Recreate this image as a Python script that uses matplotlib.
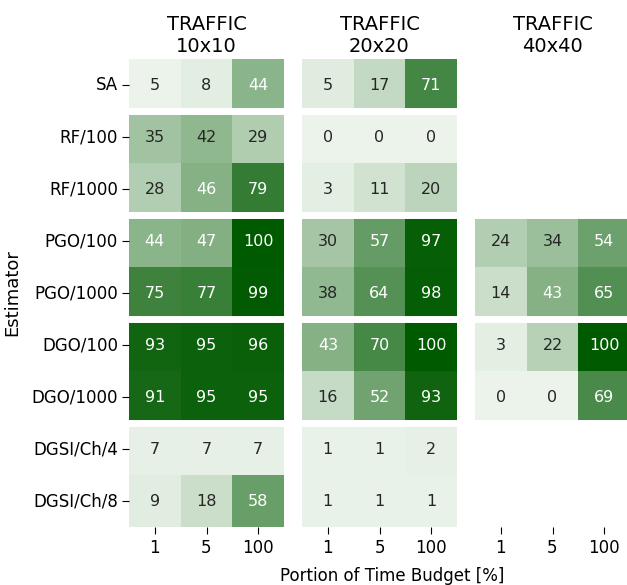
import numpy as np
import matplotlib
matplotlib.use('Agg')
import matplotlib.pyplot as plt
import seaborn as sns

# Zeilen / Spalten
estimators = ['SA', 'RF/100', 'RF/1000', 'PGO/100', 'PGO/1000',
              'DGO/100', 'DGO/1000', 'DGSI/Ch/4', 'DGSI/Ch/8']
budgets = ['1', '5', '100']
sizes = ['10x10', '20x20', '40x40']

nan = np.nan
traffic_10 = [[5, 8, 44],
              [35, 42, 29],
              [28, 46, 79],
              [44, 47, 100],
              [75, 77, 99],
              [93, 95, 96],
              [91, 95, 95],
              [7, 7, 7],
              [9, 18, 58]]
traffic_20 = [[5, 17, 71],
              [0, 0, 0],
              [3, 11, 20],
              [30, 57, 97],
              [38, 64, 98],
              [43, 70, 100],
              [16, 52, 93],
              [1, 1, 2],
              [1, 1, 1]]
traffic_40 = [[nan, nan, nan],
              [nan, nan, nan],
              [nan, nan, nan],
              [24, 34, 54],
              [14, 43, 65],
              [3, 22, 100],
              [0, 0, 69],
              [nan, nan, nan],
              [nan, nan, nan]]
panels = [traffic_10, traffic_20, traffic_40]

# Grenzen zwischen den Gruppen
group_breaks = [1, 3, 5, 7]

cmap = sns.light_palette('#005a00', as_cmap=True)

W, H = 627, 585
fig = plt.figure(figsize=(W / 100, H / 100), dpi=100)
lefts = [129, 302, 475]

for i, (data, size) in enumerate(zip(panels, sizes)):
    ax = fig.add_axes([lefts[i] / W, 1 - 527 / H, 155 / W, 468 / H])
    sns.heatmap(np.array(data, dtype=float), ax=ax, cmap=cmap, annot=True, fmt='.0f',
                cbar=False, annot_kws={'fontsize': 11.5},
                xticklabels=budgets,
                yticklabels=estimators if i == 0 else False)
    for y in group_breaks:
        ax.axhline(y, color='white', lw=5)
    ax.set_title('TRAFFIC\n' + size, fontsize=14, pad=5)
    ax.tick_params(axis='x', labelsize=12, rotation=0, length=5)
    if i == 0:
        ax.tick_params(axis='y', labelsize=12, rotation=0, length=5, pad=3)
        ax.set_ylabel('Estimator', fontsize=13, labelpad=7)
    else:
        ax.tick_params(axis='y', left=False)
        ax.set_ylabel('')

fig.text(392 / W, 1 - 576 / H, 'Portion of Time Budget [%]', fontsize=12,
         ha='center', va='center')

fig.savefig('out.png', dpi=100)
